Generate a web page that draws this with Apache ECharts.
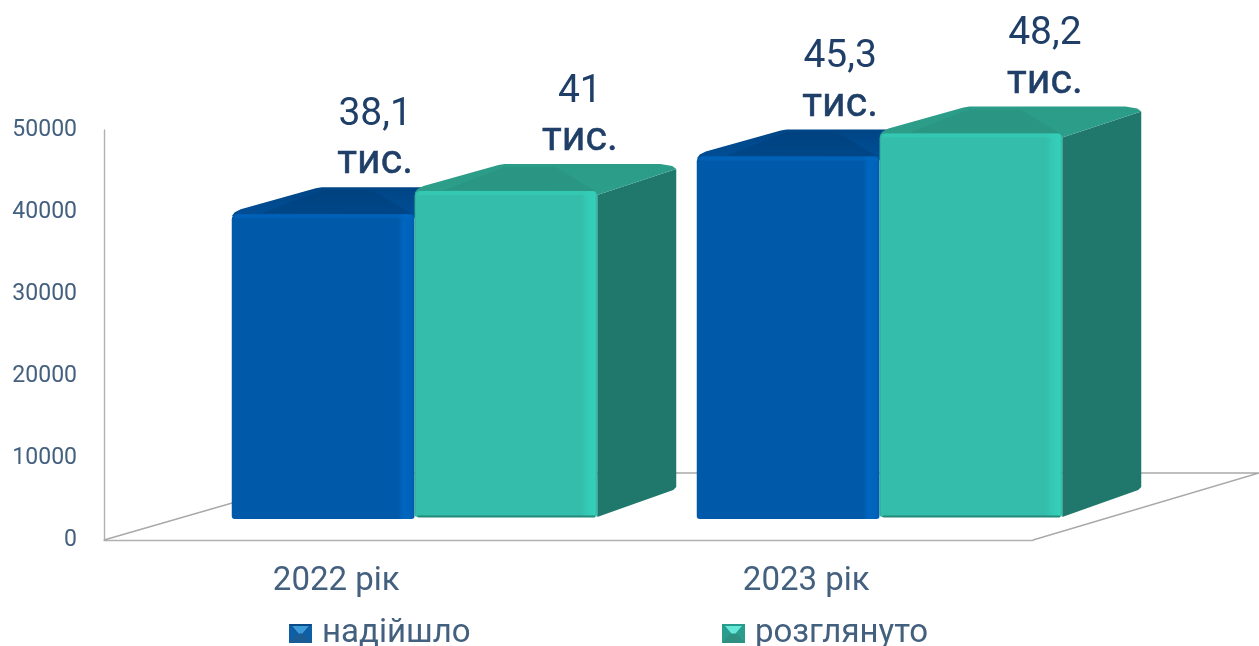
<!DOCTYPE html>
<html><head><meta charset="utf-8">
<style>html,body{margin:0;padding:0;background:#fff}#c{width:1259px;height:646px}</style>
<script src="https://cdn.jsdelivr.net/npm/echarts@6/dist/echarts.min.js"></script>
</head><body><div id="c"></div>
<script>
const categories = ['2022 рік', '2023 рік'];
const seriesNames = ['надійшло', 'розглянуто'];
const received = [38100, 45300];
const reviewed = [41000, 48200];
const receivedLabels = ['38,1', '45,3'];
const reviewedLabels = ['41', '48,2'];
const unitLabel = 'тис.';

const LG = echarts.graphic.LinearGradient;
const FONT = 'Roboto, sans-serif';
const TEXT = '#1f3f68';
const AXIS_TEXT = '#44607f';

function bevelIcon(edgeTop, edgeSide, edgeBottom, centre) {
  const svg = "<svg xmlns='http://www.w3.org/2000/svg' width='23' height='19' viewBox='0 0 23 19'>" +
    "<rect width='23' height='19' fill='" + edgeSide + "'/>" +
    "<polygon points='0,0 23,0 14,9.5 9,9.5' fill='" + edgeTop + "'/>" +
    "<polygon points='0,19 23,19 14,9.5 9,9.5' fill='" + edgeBottom + "'/>" +
    "<polygon points='3,2 20,2 13.5,9.5 9.5,9.5' fill='" + centre + "'/>" +
    "</svg>";
  return 'image://data:image/svg+xml;charset=utf-8,' + encodeURIComponent(svg);
}

const themes = [
  { front: new LG(1,0,0,0,[{offset:0,color:'#0058a6'},{offset:0.015,color:'#0062ba'},{offset:0.06,color:'#0066c0'},{offset:0.09,color:'#0059a9'},{offset:1,color:'#0059a9'}]),
    top: new LG(0,0,0,1,[{offset:0,color:'#004585'},{offset:1,color:'#004f98'}]),
    side: '#003f7a', lip:'#0067c2', shade:'#003e78', dx:90, labelDx:52, slot:-1 },
  { front: new LG(1,0,0,0,[{offset:0,color:'#2fb8a6'},{offset:0.015,color:'#35cfba'},{offset:0.06,color:'#34c8b4'},{offset:0.09,color:'#34bdab'},{offset:0.99,color:'#34bdab'},{offset:1,color:'#2aa595'}]),
    top: new LG(0,0,0,1,[{offset:0,color:'#2b9c88'},{offset:1,color:'#2c9e8a'}]),
    side: '#20776b', lip:'#35cdb8', shade:'#298f7d', dx:90, labelDx:74, slot:0 }
];

function barRender(themeIndex, labels) {
  return function (params, api) {
    const th = themes[themeIndex];
    const cat = api.value(0), val = api.value(1);
    const c = api.coord([cat, val]);
    const zero = api.coord([cat, 0]);
    const w = api.size([1, 0])[0] * 0.393;
    const x0 = c[0] + th.slot * w, x1 = x0 + w;
    const t = c[1], b = zero[1] - (themeIndex ? 2 : 0);
    const depthR = 79, depthUp = 26;
    const ch = [];
    if (themeIndex === 1) {
      ch.push({ type:'polygon', shape:{points:[[x1,t+4],[x1+depthR,t-depthUp+4],[x1+depthR,b-depthUp-4],[x1+depthR-3,b-depthUp-1],[x1,b]]}, style:{fill:th.side} });
    }
    ch.push({ type:'polygon', shape:{points:[[x0,t+2],[x0+3,t-2],[x0+9,t-5],[x0+th.dx-6,t-depthUp],[x0+th.dx,t-depthUp-1],[x1+depthR-16,t-depthUp-1],[x1+depthR-4,t-depthUp+1],[x1+depthR,t-depthUp+4],[x1,t+4]]}, style:{fill:th.top} });
    ch.push({ type:'polygon', shape:{points:[[x0+30,t-1],[x0+th.dx,t-depthUp+2],[x1-42,t-depthUp+2],[x1-2,t]]}, style:{fill:th.shade, opacity:0.45} });
    ch.push({ type:'rect', shape:{x:x0,y:t,width:w,height:b-t,r:[5,5,3,3]}, style:{fill:th.front} });
    ch.push({ type:'rect', shape:{x:x0+3,y:t,width:w-4,height:4,r:[4,4,0,0]}, style:{fill:th.lip, opacity:0.6} });
    if (themeIndex === 1) ch.push({ type:'rect', shape:{x:x0+3,y:b-1.5,width:w-5,height:2,r:1}, style:{fill:'#248a7b'} });
    const cx = (x0 + x1) / 2 + th.labelDx;
    ch.push({ type:'text', style:{ x:cx, y:t-99, text:labels[cat], font:'39px '+FONT, fill:TEXT, align:'center', verticalAlign:'middle' } });
    ch.push({ type:'text', style:{ x:cx, y:t-51, text:unitLabel, font:'41px '+FONT, fill:TEXT, stroke:TEXT, lineWidth:0.5, align:'center', verticalAlign:'middle' } });
    return { type:'group', children: ch };
  };
}

function floorRender(params, api) {
  const o = api.coord([0, 0]);
  const size = api.size([1, 0])[0];
  const xL = o[0] - size / 2;
  const xR = o[0] + size * 1.5;
  const y = o[1];
  const sd = 226, su = 67;
  const style = { stroke:'#a9a9a9', lineWidth:1.4, fill:'none' };
  return { type:'group', children:[
    { type:'polyline', shape:{points:[[xL, y],[xL+sd+6, y-su],[xR+sd, y-su],[xR, y]]}, style, silent:true }
  ]};
}

const legendText = { fontFamily:FONT, fontSize:33, color:AXIS_TEXT, padding:[0,0,0,5] };

const option = {
  animation:false,
  backgroundColor:'#fff',
  legend:[
    { data:[{ name:seriesNames[0], icon:bevelIcon('#0a4a86','#0f5fa6','#1a5c94','#3d9ad8') }], left:284, top:612, itemWidth:23, itemHeight:19, textStyle:legendText },
    { data:[{ name:seriesNames[1], icon:bevelIcon('#2a9c8c','#2a9d8d','#2f8f80','#66e8d8') }], left:717, top:612, itemWidth:23, itemHeight:19, textStyle:legendText }
  ],
  grid:[
    { left:104, top:130, width:929, height:410 },
    { left:182, top:119, width:930, height:400 }
  ],
  xAxis:[
    { type:'category', gridIndex:0, data:categories,
      axisLine:{ lineStyle:{ color:'#b0b0b0', width:1.4 } }, axisTick:{show:false},
      axisLabel:{ fontFamily:FONT, fontSize:33, color:AXIS_TEXT, margin:25,
        formatter:(v, i) => i === 1 ? '{b|' + v + '}' : '{a|' + v + '}',
        rich:{ a:{ fontFamily:FONT, fontSize:33, color:AXIS_TEXT }, b:{ fontFamily:FONT, fontSize:33, color:AXIS_TEXT, padding:[0,0,0,11] } } } },
    { type:'category', gridIndex:1, data:categories, show:false }
  ],
  yAxis:[
    { type:'value', gridIndex:0, min:0, max:50000, interval:10000,
      axisLine:{ show:true, lineStyle:{ color:'#b0b0b0', width:1.4 } }, axisTick:{show:false}, splitLine:{show:false},
      axisLabel:{ fontFamily:FONT, fontSize:23, color:AXIS_TEXT, margin:27, formatter:v => String(v) } },
    { type:'value', gridIndex:1, min:0, max:50000, show:false }
  ],
  series:[
    { type:'custom', name:'floor', xAxisIndex:0, yAxisIndex:0, z:1, silent:true, data:[[0,0]], renderItem:floorRender, encode:{x:0,y:1} },
    { type:'custom', name:seriesNames[0], xAxisIndex:1, yAxisIndex:1, z:2,
      data:received.map((v,i)=>[i,v]), renderItem:barRender(0, receivedLabels), encode:{x:0,y:1},
      itemStyle:{ color:'#0f5fa6' } },
    { type:'custom', name:seriesNames[1], xAxisIndex:1, yAxisIndex:1, z:3,
      data:reviewed.map((v,i)=>[i,v]), renderItem:barRender(1, reviewedLabels), encode:{x:0,y:1},
      itemStyle:{ color:'#2a9d8d' } }
  ]
};
echarts.init(document.getElementById('c'), null, {renderer:'canvas'}).setOption(option);
</script></body></html>
